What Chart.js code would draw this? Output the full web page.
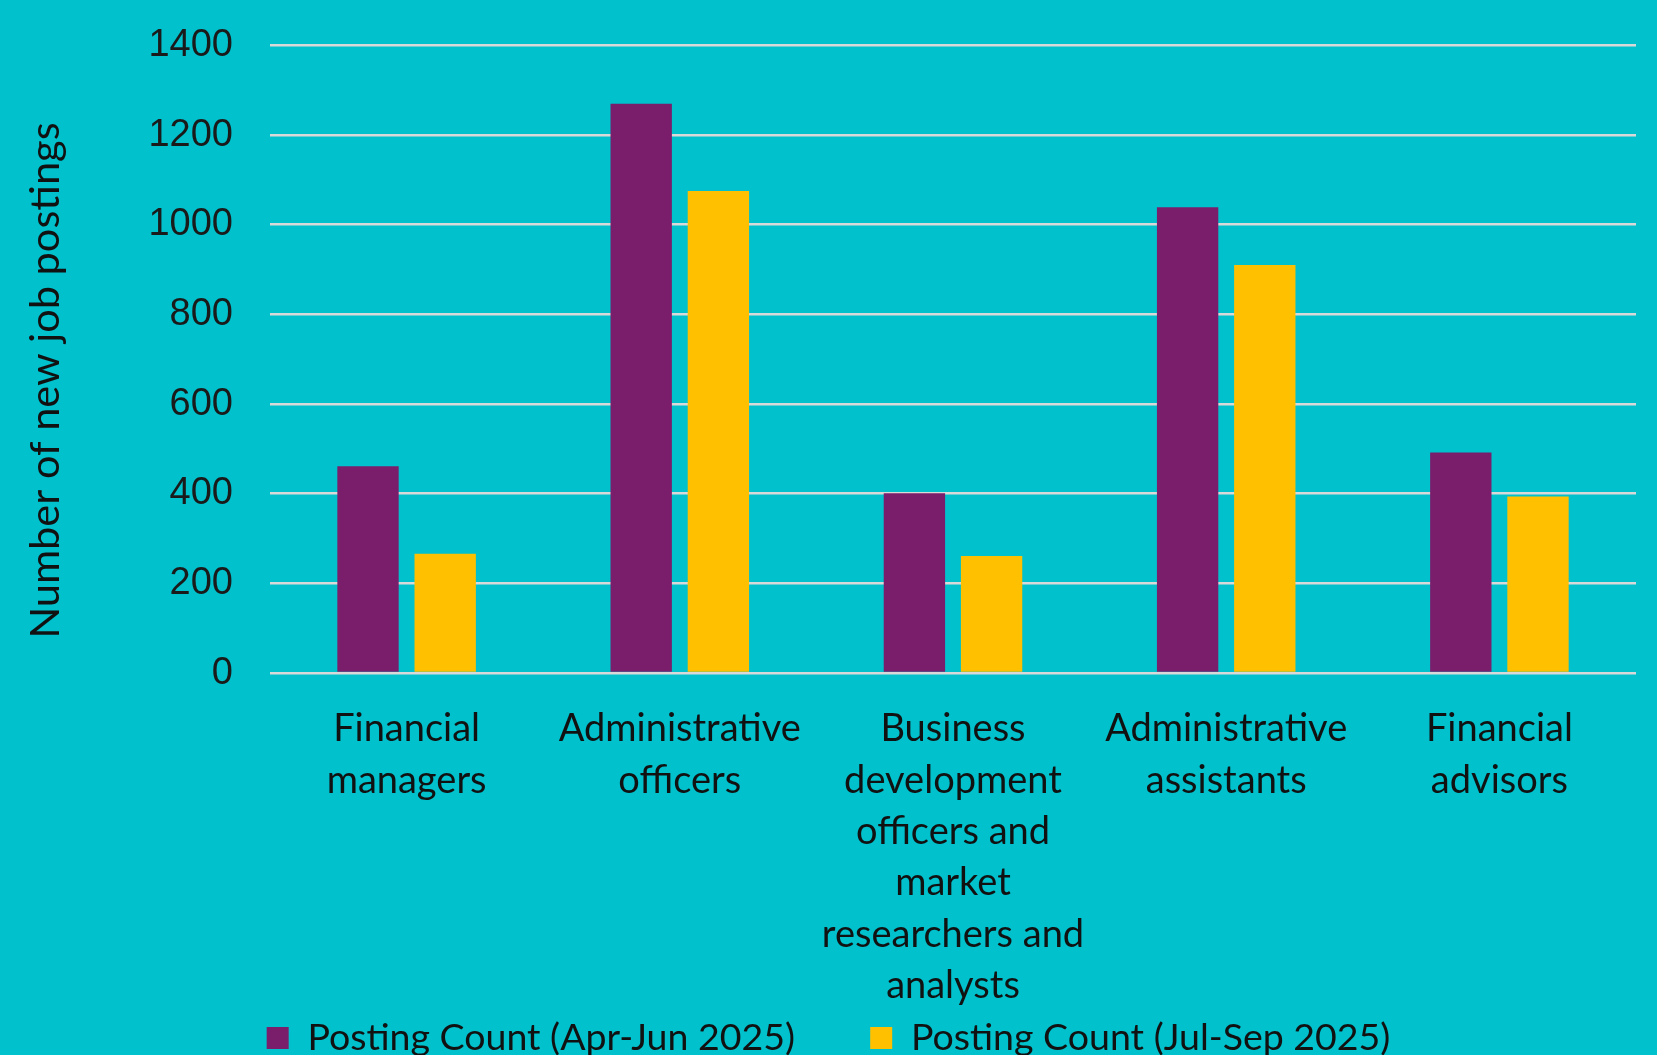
<!DOCTYPE html>
<html>
<head>
<meta charset="utf-8">
<script src="https://cdn.jsdelivr.net/npm/chart.js@4.4.1/dist/chart.umd.min.js"></script>
<style>
	html, body { margin: 0; padding: 0; background: #00C1CC; }
	canvas { display: block; }
</style>
</head>
<body>
<canvas id="myChart" width="1657" height="1055"></canvas>
<script>
'use strict';

// *** Data ***
const aryCategories = [
	['Financial', 'managers'],
	['Administrative', 'officers'],
	['Business', 'development', 'officers and', 'market', 'researchers and', 'analysts'],
	['Administrative', 'assistants'],
	['Financial', 'advisors'],
];
const aryAprJun = [461, 1270, 401, 1039, 492];
const aryJulSep = [266, 1075, 261, 910, 394];
const aryYTicks = [0, 200, 400, 600, 800, 1000, 1200, 1400];

const seriesLabels = ['Posting Count (Apr-Jun 2025)', 'Posting Count (Jul-Sep 2025)'];
const textFont = 'Lato, "Open Sans", sans-serif';
const xTickPadding = 22.35;

function prepareDataSets() {
	let aryDataSets = [];
	aryDataSets.push({
		label: seriesLabels[0],
		backgroundColor: '#7A1E6C',
		data: aryAprJun,
		categoryPercentage: 0.565,
		barPercentage: 0.795,
	});
	aryDataSets.push({
		label: seriesLabels[1],
		backgroundColor: '#FFC000',
		data: aryJulSep,
		categoryPercentage: 0.565,
		barPercentage: 0.795,
	});
	return aryDataSets;
}

function prepareOptions() {
	return {
		responsive: false,
		animation: false,
		devicePixelRatio: 1,
		layout: { padding: { left: 21, right: 21, top: 45.4, bottom: -11.7 } },
		plugins: {
			tooltip: { enabled: false },
			legend: {
				position: 'bottom',
				align: 'center',
				labels: {
					color: '#111',
					font: { family: textFont, size: 37.5 },
					boxWidth: 22,
					boxHeight: 22,
					padding: 8,
					// wider gap after the first entry, like the original legend
					generateLabels: function (chart) {
						const items = Chart.defaults.plugins.legend.labels.generateLabels(chart);
						items[0].text += '       ';
						return items;
					},
				},
			},
		},
		scales: {
			x: {
				grid: { display: false },
				border: { display: false },
				ticks: {
					color: '#111',
					font: { family: textFont, size: 38, lineHeight: 1.35 },
					padding: xTickPadding,
					maxRotation: 0,
					autoSkip: false,
				},
				afterFit: function (scale) { scale.height -= xTickPadding; },
			},
			y: {
				min: aryYTicks[0],
				max: aryYTicks[aryYTicks.length - 1],
				border: { display: false },
				grid: { color: '#D9D9D9', lineWidth: 2.5, drawTicks: false },
				ticks: {
					stepSize: aryYTicks[1] - aryYTicks[0],
					color: '#1a1a1a',
					font: { family: '"Liberation Sans", Arial, sans-serif', size: 38, lineHeight: 0.4 },
					padding: 37,
					callback: (value) => String(value),
				},
				title: {
					display: true,
					text: 'Number of new job postings    ',
					color: '#111',
					font: { family: textFont, size: 41.5 },
					padding: { top: 0, bottom: 0 },
				},
				afterFit: function (scale) { scale.width = 249; },
			},
		},
	};
}

function chartIt() {
	const config = {
		type: 'bar',
		data: {
			labels: aryCategories,
			datasets: prepareDataSets(),
		},
		options: prepareOptions(),
	};
	return new Chart(document.getElementById('myChart'), config);
}

// *** Entry Point ***
const myChart = chartIt();
</script>
</body>
</html>
